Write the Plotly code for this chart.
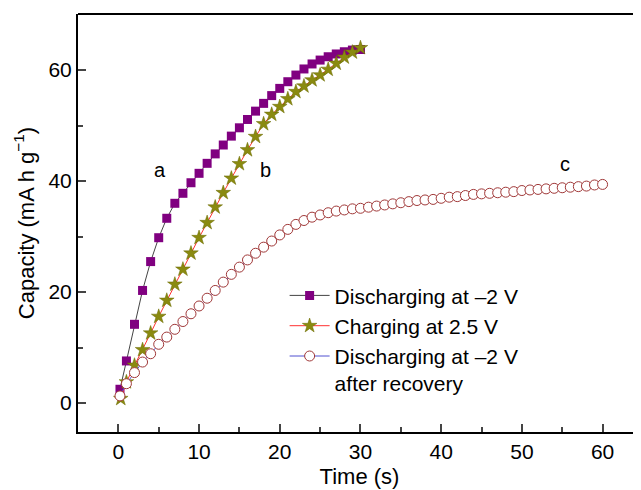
import plotly.graph_objects as go

# ---- data ----
t_a = [0.2] + list(range(1, 31))
cap_a = [2.5, 7.6, 14.2, 20.3, 25.5, 29.8, 33.3, 36.0, 37.8, 39.7, 41.4, 43.2, 44.9,
         46.5, 48.1, 49.6, 51.1, 52.6, 54.0, 55.4, 56.7, 57.9, 59.1, 60.2, 61.1,
         61.8, 62.4, 62.9, 63.3, 63.6, 63.7]

t_b = [0.3] + list(range(1, 31))
cap_b = [0.8, 3.8, 6.8, 9.6, 12.6, 15.6, 18.5, 21.4, 24.1, 27.0, 29.8, 32.5, 35.3,
         37.9, 40.5, 43.1, 45.6, 48.0, 50.3, 52.0, 53.4, 54.8, 56.1, 57.1, 58.2,
         59.1, 60.1, 61.2, 62.3, 63.2, 64.0]

t_c = [0.2] + list(range(1, 61))
cap_c = [1.3, 3.5, 5.5, 7.4, 8.9, 10.6, 11.9, 13.3, 14.7, 16.1, 17.5, 18.9, 20.3,
         21.8, 23.2, 24.5, 25.8, 27.0, 28.1, 29.2, 30.3, 31.3, 32.2, 32.9, 33.5,
         33.9, 34.3, 34.6, 34.8, 35.0, 35.1, 35.3, 35.5, 35.7, 35.9, 36.1, 36.3,
         36.5, 36.6, 36.7, 36.9, 37.1, 37.2, 37.4, 37.6, 37.7, 37.8, 37.9, 38.0,
         38.1, 38.3, 38.4, 38.5, 38.6, 38.7, 38.8, 38.9, 39.0, 39.1, 39.3, 39.4]

names = ["Discharging at \u20132 V", "Charging at 2.5 V",
         "Discharging at \u20132 V<br>after recovery"]
curve_labels = ["a", "b", "c"]
label_pos_x = [5.1, 18.2, 55.4]
label_pos_y = [42.0, 42.0, 43.0]

x_ticks = [0, 10, 20, 30, 40, 50, 60]
y_ticks = [0, 20, 40, 60]

FONT = "Liberation Sans, Arial, Helvetica, sans-serif"

fig = go.Figure()
fig.add_trace(go.Scatter(
    x=t_a, y=cap_a, name=names[0], mode="lines+markers",
    line=dict(color="#444444", width=1),
    marker=dict(symbol="square", size=9, color="#800080",
                line=dict(color="#800080", width=0))))
fig.add_trace(go.Scatter(
    x=t_b, y=cap_b, name=names[1], mode="lines+markers",
    line=dict(color="#FF3030", width=1),
    marker=dict(symbol="star", size=11, color="#8A8A10",
                line=dict(color="#6B6B00", width=0.5))))
fig.add_trace(go.Scatter(
    x=t_c, y=cap_c, name=names[2], mode="lines+markers",
    line=dict(color="#5050D0", width=1),
    marker=dict(symbol="circle", size=10, color="white",
                line=dict(color="#A03838", width=1))))

for lab, lx, ly in zip(curve_labels, label_pos_x, label_pos_y):
    fig.add_annotation(x=lx, y=ly, text=lab, showarrow=False,
                       font=dict(size=20, color="black", family=FONT))

fig.add_shape(type="line", xref="paper", yref="paper", x0=0, x1=1, y0=1, y1=1,
              line=dict(color="black", width=2))

fig.update_layout(
    width=633, height=482,
    margin=dict(l=70, r=0, t=6, b=58),
    paper_bgcolor="white", plot_bgcolor="white",
    font=dict(family=FONT, size=21, color="black"),
    showlegend=True,
    legend=dict(x=0.367, y=0.375, xanchor="left", yanchor="top",
                bgcolor="rgba(0,0,0,0)", font=dict(size=21),
                valign="top", tracegroupgap=0, itemwidth=40),
    xaxis=dict(range=[-5, 64.76], tickvals=x_ticks, ticks="inside", ticklen=8,
               tickwidth=1.5, showline=True, linecolor="black", linewidth=2,
               showgrid=False, zeroline=False, automargin=False,
               minor=dict(ticks="inside", ticklen=5, tickwidth=1.5, dtick=5,
                          tick0=5, showgrid=False),
               title=dict(text="Time (s)", standoff=6, font=dict(size=22))),
    yaxis=dict(range=[-5.2, 70.1], tickvals=y_ticks, ticks="inside", ticklen=8,
               tickwidth=1.5, showline=True, linecolor="black", linewidth=2,
               showgrid=False, zeroline=False, automargin=False,
               minor=dict(ticks="inside", ticklen=5, tickwidth=1.5, dtick=10,
                          tick0=10, showgrid=False),
               title=dict(text="Capacity (mA h g<sup>\u22121</sup>)", standoff=8,
                          font=dict(size=22))),
)

fig.write_html("out.html")
